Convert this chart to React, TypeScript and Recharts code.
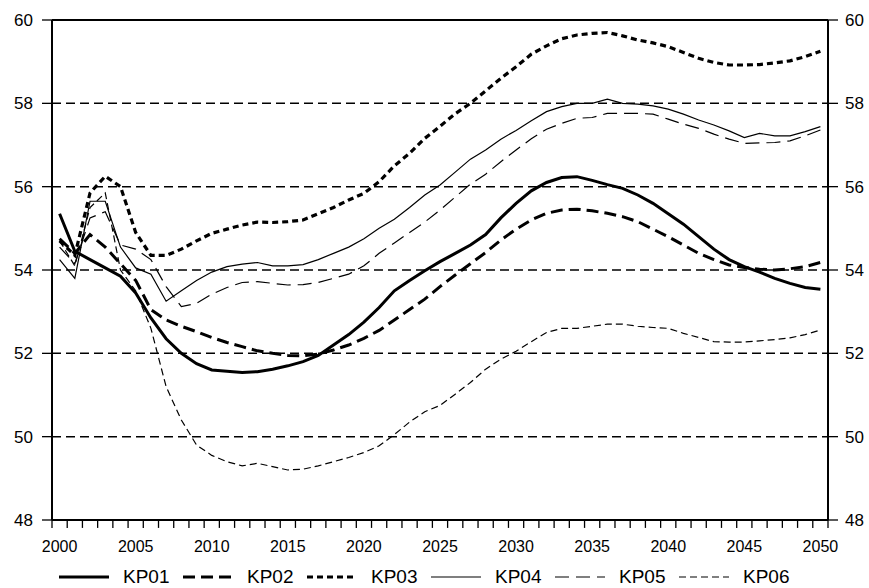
import React from 'react';
import { LineChart, Line, XAxis, YAxis, CartesianGrid, ReferenceLine } from 'recharts';

const years = [
  2000, 2001, 2002, 2003, 2004, 2005, 2006, 2007, 2008, 2009,
  2010, 2011, 2012, 2013, 2014, 2015, 2016, 2017, 2018, 2019,
  2020, 2021, 2022, 2023, 2024, 2025, 2026, 2027, 2028, 2029,
  2030, 2031, 2032, 2033, 2034, 2035, 2036, 2037, 2038, 2039,
  2040, 2041, 2042, 2043, 2044, 2045, 2046, 2047, 2048, 2049, 2050,
];

const kp01 = [
  55.35, 54.45, 54.25, 54.05, 53.85, 53.45, 52.85, 52.35, 52.0, 51.75,
  51.6, 51.57, 51.54, 51.56, 51.62, 51.7, 51.8, 51.95, 52.2, 52.45,
  52.75, 53.1, 53.5, 53.75, 53.98, 54.2, 54.4, 54.6, 54.85, 55.25,
  55.6, 55.9, 56.1, 56.22, 56.24, 56.15, 56.05, 55.96, 55.8, 55.6,
  55.35, 55.1, 54.8, 54.5, 54.25, 54.08, 53.95, 53.8, 53.68, 53.58, 53.54,
];
const kp02 = [
  54.75, 54.4, 54.85, 54.55, 54.15, 53.75, 53.05, 52.8, 52.65, 52.52,
  52.38, 52.26, 52.16, 52.06, 52.0, 51.95, 51.94, 51.98, 52.08, 52.2,
  52.36, 52.55, 52.8, 53.05, 53.3, 53.6, 53.88, 54.15, 54.42, 54.72,
  54.98, 55.2, 55.36, 55.44, 55.46, 55.42, 55.36, 55.28, 55.16, 54.98,
  54.8, 54.6, 54.4, 54.25, 54.12, 54.06, 54.02, 54.0, 54.03, 54.08, 54.18,
];
const kp03 = [
  54.7, 54.35, 55.85, 56.25, 56.0, 54.9, 54.35, 54.35, 54.5, 54.7,
  54.88, 54.98, 55.08, 55.15, 55.14, 55.16, 55.2, 55.35, 55.5, 55.68,
  55.84, 56.12, 56.5, 56.8, 57.16, 57.45, 57.75, 58.0, 58.3, 58.6,
  58.88, 59.18, 59.38, 59.55, 59.64, 59.68, 59.7, 59.62, 59.52, 59.45,
  59.36, 59.22, 59.08, 58.98, 58.92, 58.92, 58.93, 58.97, 59.02, 59.12, 59.25,
];
const kp04 = [
  54.25, 53.8, 55.65, 55.65, 54.55, 54.05, 53.9, 53.25, 53.5, 53.75,
  53.95, 54.08, 54.14, 54.18, 54.1, 54.1, 54.13, 54.25, 54.4, 54.55,
  54.75, 55.0, 55.22, 55.5, 55.8, 56.04, 56.35, 56.66, 56.88, 57.14,
  57.35, 57.58, 57.8, 57.92, 58.0, 58.0, 58.1, 58.0, 57.98, 57.94,
  57.86, 57.74, 57.6, 57.48, 57.34, 57.18, 57.28, 57.22, 57.22, 57.32, 57.44,
];
const kp05 = [
  54.55, 54.15, 55.25, 55.4, 54.6, 54.5, 54.25, 53.6, 53.12, 53.2,
  53.42, 53.58, 53.7, 53.72, 53.68, 53.64, 53.65, 53.7, 53.8, 53.9,
  54.1, 54.4, 54.65, 54.9, 55.15, 55.44, 55.75, 56.06, 56.3, 56.6,
  56.88, 57.15, 57.38, 57.52, 57.64, 57.66, 57.76, 57.76, 57.76, 57.74,
  57.62, 57.5, 57.4, 57.26, 57.14, 57.04, 57.05, 57.06, 57.1, 57.22, 57.36,
];
const kp06 = [
  54.7, 54.1, 55.5, 55.85, 54.0, 53.5, 52.6, 51.2, 50.4, 49.8,
  49.55, 49.4, 49.3, 49.36, 49.28, 49.2, 49.22, 49.3, 49.4, 49.5,
  49.62, 49.78, 50.05, 50.35, 50.6, 50.75, 51.02, 51.3, 51.62, 51.86,
  52.05, 52.28, 52.5, 52.6, 52.6, 52.65, 52.7, 52.7, 52.65, 52.62,
  52.6, 52.48, 52.38, 52.28, 52.27, 52.27, 52.3, 52.33, 52.37, 52.45, 52.56,
];

const yTicks = [48, 50, 52, 54, 56, 58, 60];
const yearLabels = [2000, 2005, 2010, 2015, 2020, 2025, 2030, 2035, 2040, 2045, 2050];

const seriesNames = ['KP01', 'KP02', 'KP03', 'KP04', 'KP05', 'KP06'];
const seriesValues = [kp01, kp02, kp03, kp04, kp05, kp06];
const seriesStyle = [
  { width: 3, dash: undefined },
  { width: 3, dash: '12 6' },
  { width: 3.2, dash: '6 4' },
  { width: 1.2, dash: undefined },
  { width: 1.2, dash: '14 7' },
  { width: 1.2, dash: '7 4' },
];

const data = years.map((year, i) => {
  const row: Record<string, number> = { year };
  seriesNames.forEach((name, s) => {
    row[name] = seriesValues[s][i];
  });
  return row;
});

// tick marks sit on the edges between yearly slots, hanging below the axis
const slotEdges = [...years.map((y) => y - 0.5), years[years.length - 1] + 0.5];
const Y_MIN = 48;
const TICK_DROP = 0.19; // in axis units, about 8px

const FONT = "'Liberation Sans', Arial, sans-serif";

const Legend = () => (
  <div style={{ position: 'absolute', left: 0, top: 566, width: 869, height: 22, fontFamily: FONT, fontSize: 19, color: '#000' }}>
    {seriesNames.map((name, i) => (
      <div
        key={name}
        style={{ position: 'absolute', left: 58 + i * 124, top: 0, display: 'flex', alignItems: 'center' }}
      >
        <svg width={52} height={10} style={{ marginRight: 13 }}>
          <line
            x1={1}
            x2={51}
            y1={5}
            y2={5}
            stroke="#000"
            strokeWidth={seriesStyle[i].width}
            strokeDasharray={seriesStyle[i].dash}
          />
        </svg>
        <span>{name}</span>
      </div>
    ))}
  </div>
);

export default function App() {
  return (
    <div style={{ position: 'absolute', left: 0, top: 0, width: 869, height: 588, background: '#fff' }}>
      <LineChart width={869} height={588} data={data} margin={{ top: 20, right: 0, bottom: 38, left: 0 }}>
        <CartesianGrid vertical={false} stroke="#000" strokeWidth={1.5} strokeDasharray="9 5" yAxisId="left" />
        <XAxis
          dataKey="year"
          type="number"
          domain={[1999.5, 2050.5]}
          ticks={yearLabels}
          interval={0}
          height={30}
          tickLine={false}
          tickSize={0}
          tickMargin={21}
          axisLine={{ stroke: '#000', strokeWidth: 2 }}
          tick={{ fill: '#000', fontSize: 16, fontFamily: FONT }}
        />
        <YAxis
          yAxisId="left"
          width={52}
          domain={[48, 60]}
          ticks={yTicks}
          interval={0}
          tickSize={10}
          tickMargin={9}
          axisLine={{ stroke: '#000', strokeWidth: 2 }}
          tickLine={{ stroke: '#000', strokeWidth: 1.3 }}
          tick={{ fill: '#000', fontSize: 17, fontFamily: FONT }}
        />
        <YAxis
          yAxisId="right"
          orientation="right"
          width={41}
          domain={[48, 60]}
          ticks={yTicks}
          interval={0}
          tickSize={10}
          tickMargin={7}
          axisLine={{ stroke: '#000', strokeWidth: 2 }}
          tickLine={{ stroke: '#000', strokeWidth: 1.3 }}
          tick={{ fill: '#000', fontSize: 17, fontFamily: FONT }}
        />
        <ReferenceLine yAxisId="left" y={60} stroke="#000" strokeWidth={2} />
        {slotEdges.map((e) => (
          <ReferenceLine
            key={`edge-${e}`}
            yAxisId="left"
            ifOverflow="visible"
            segment={[
              { x: e, y: Y_MIN },
              { x: e, y: Y_MIN - TICK_DROP },
            ]}
            stroke="#000"
            strokeWidth={1.3}
          />
        ))}
        {seriesNames.map((name, i) => (
          <Line
            key={name}
            yAxisId={i === 5 ? 'right' : 'left'}
            dataKey={name}
            type="linear"
            stroke="#000"
            strokeWidth={seriesStyle[i].width}
            strokeDasharray={seriesStyle[i].dash}
            dot={false}
            activeDot={false}
            isAnimationActive={false}
          />
        ))}
      </LineChart>
      <Legend />
    </div>
  );
}
